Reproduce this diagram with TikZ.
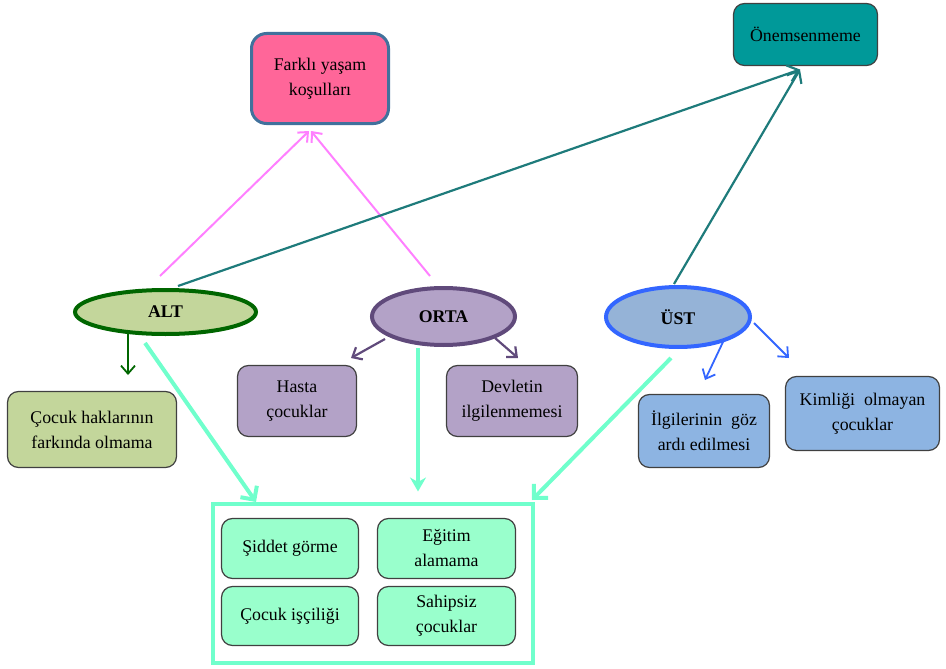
\documentclass[tikz,border=0pt]{standalone}
\usepackage{fontspec}
\setmainfont{Liberation Serif}
\usetikzlibrary{shapes.geometric,arrows.meta}
\definecolor{pinkfill}{HTML}{FF6699}
\definecolor{pinkline}{HTML}{41719C}
\definecolor{tealfill}{HTML}{009999}
\definecolor{tealarr}{HTML}{1E7B7B}
\definecolor{altfill}{HTML}{C3D69B}
\definecolor{altline}{HTML}{006600}
\definecolor{ortafill}{HTML}{B3A2C7}
\definecolor{ortaline}{HTML}{604A7B}
\definecolor{ustfill}{HTML}{95B3D7}
\definecolor{ustline}{HTML}{3366FF}
\definecolor{bluebox}{HTML}{8DB4E2}
\definecolor{aqua}{HTML}{70FFCC}
\definecolor{mint}{HTML}{99FFCC}
\definecolor{magarr}{HTML}{FF80FF}
\definecolor{boxline}{HTML}{404040}
\tikzset{
  txt/.style={font=\fontsize{17.8}{25}\selectfont, align=center, inner sep=0pt},
  rbox/.style={txt, rectangle, rounded corners=11pt, draw=boxline, line width=1.2pt},
  lvl/.style={txt, ellipse, line width=4pt, font=\fontsize{17.8}{25}\selectfont\bfseries},
  barb/.style={-{Straight Barb[length=8pt,width=14pt]}},
}
\begin{document}
\begin{tikzpicture}[x=1pt,y=-1pt]
\useasboundingbox (0,0) rectangle (946,669);
% top boxes
\node[rbox, draw=pinkline, line width=3pt, fill=pinkfill, rounded corners=15pt, minimum width=137pt, minimum height=90pt] (farkli) at (320,78.5) {Farklı yaşam\\koşulları};
\node[rbox, fill=tealfill, minimum width=144pt, minimum height=62pt] (onem) at (805.5,34.5) {Önemsenmeme};
% level ellipses
\node[lvl, draw=altline, fill=altfill, minimum width=181pt, minimum height=44pt] (alt) at (165.5,312) {ALT};
\node[lvl, draw=ortaline, fill=ortafill, minimum width=143pt, minimum height=57pt] (orta) at (443.5,316.5) {ORTA};
\node[lvl, draw=ustline, fill=ustfill, minimum width=144pt, minimum height=60pt] (ust) at (678,317) {ÜST};
% second row
\node[rbox, fill=altfill, minimum width=169pt, minimum height=76pt] (hak) at (92,429.5) {Çocuk haklarının\\farkında olmama};
\node[rbox, fill=ortafill, minimum width=119pt, minimum height=71pt] (hasta) at (297,401) {Hasta\\çocuklar};
\node[rbox, fill=ortafill, minimum width=131pt, minimum height=71pt] (devlet) at (512,401) {Devletin\\ilgilenmemesi};
\node[rbox, fill=bluebox, minimum width=131pt, minimum height=73pt] (ilgi) at (704,431) {İlgilerinin\ \ göz\\ardı edilmesi};
\node[rbox, fill=bluebox, minimum width=154pt, minimum height=74pt] (kim) at (862.5,413.5) {Kimliği\ \ olmayan\\çocuklar};
% container
\node[draw=aqua, line width=4pt, fill=white, minimum width=320pt, minimum height=159pt, inner sep=0pt] (cont) at (373,583.5) {};
\node[rbox, fill=mint, minimum width=137pt, minimum height=60pt] (siddet) at (290,548.5) {Şiddet görme};
\node[rbox, fill=mint, minimum width=138pt, minimum height=60pt] (egitim) at (446.5,548.5) {Eğitim\\alamama};
\node[rbox, fill=mint, minimum width=137pt, minimum height=59pt] (isci) at (290,616) {Çocuk işçiliği};
\node[rbox, fill=mint, minimum width=138pt, minimum height=59pt] (sahip) at (446.5,616) {Sahipsiz\\çocuklar};
% connectors
\draw[barb, magarr, line width=2pt] ([shift={(-5.5,-36)}]alt.center) -- ([shift={(-11,52.5)}]farkli.center);
\draw[barb, magarr, line width=2pt] ([shift={(-13.5,-40.5)}]orta.center) -- ([shift={(-9,52.5)}]farkli.center);
\draw[-{Straight Barb[length=10pt,width=17pt]}, tealarr, line width=2.2pt] ([shift={(12.5,-26)}]alt.center) -- ([shift={(-5.5,35)}]onem.center);
\draw[-{Straight Barb[length=10pt,width=17pt]}, tealarr, line width=2.2pt] ([shift={(-4,-33)}]ust.center) -- ([shift={(-5.5,35)}]onem.center);
\draw[barb, altline, line width=1.8pt] ([shift={(-37.5,22)}]alt.center) -- ([shift={(36,-54.5)}]hak.center);
\draw[barb, ortaline, line width=2.2pt] ([shift={(-58.5,22.5)}]orta.center) -- ([shift={(54,-43)}]hasta.center);
\draw[barb, ortaline, line width=2.2pt] ([shift={(51.5,21.5)}]orta.center) -- ([shift={(6,-43)}]devlet.center);
\draw[barb, ustline, line width=1.8pt] ([shift={(45,25)}]ust.center) -- ([shift={(1,-51)}]ilgi.center);
\draw[barb, ustline, line width=1.8pt] ([shift={(76,6)}]ust.center) -- ([shift={(-73.5,-55.5)}]kim.center);
\draw[-{Straight Barb[length=10pt,width=20pt]}, aqua, line width=4pt] ([shift={(-20.5,31)}]alt.center) -- ([shift={(-117,-81.5)}]cont.center);
\draw[-{Stealth[length=14pt,width=16pt]}, aqua, line width=4pt] ([shift={(-25.5,31.5)}]orta.center) -- ([shift={(45,-92)}]cont.center);
\draw[-{Straight Barb[length=10pt,width=20pt]}, aqua, line width=4pt] ([shift={(-7,41)}]ust.center) -- ([shift={(159,-83.5)}]cont.center);
\end{tikzpicture}
\end{document}
